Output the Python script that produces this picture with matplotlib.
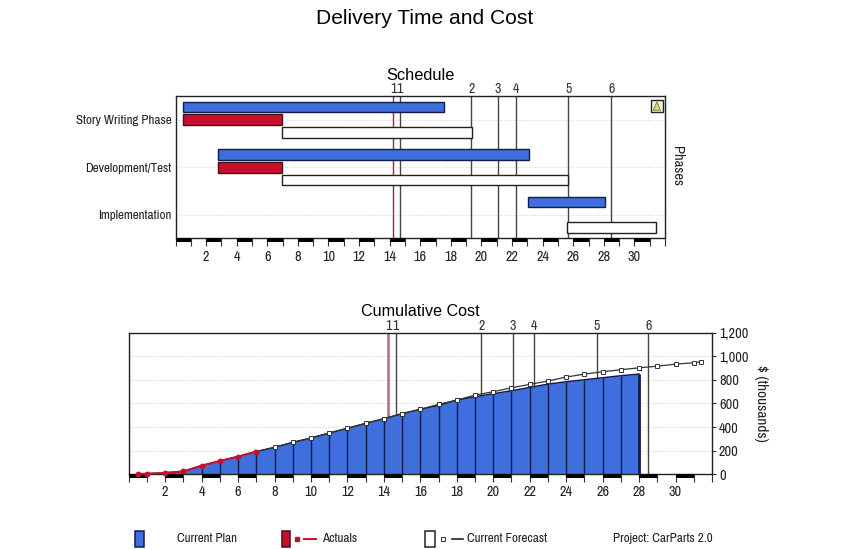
import matplotlib
matplotlib.use("Agg")
import matplotlib.pyplot as plt
from matplotlib import transforms
from matplotlib.lines import Line2D
from matplotlib.patches import Rectangle, Polygon

plt.rcParams["font.family"] = ["Archivo Narrow", "Roboto Condensed", "Liberation Sans", "DejaVu Sans"]

W, H = 847, 549
BLUE = "#3f6fdc"
RED = "#c8102e"
NAVY = "#101c50"
DARK = "#333333"
TITLE_FONT = ["Liberation Sans"]
LABEL_SIZE = 9.4
TICK_SIZE = 10.3

# schedule data
phases = ["Story Writing Phase", "Development/Test", "Implementation"]
plan_start = [0.47, 2.78, 23.03]
plan_end = [17.54, 23.1, 28.1]
actual_start = [0.47, 2.78]
actual_end = [6.97, 6.97]
forecast_start = [6.95, 6.95, 25.6]
forecast_end = [19.4, 25.67, 31.4]

# milestones
status_date = 14.25
milestone_x = [14.66, 19.35, 21.09, 22.25, 25.67, 28.5]
milestone_labels = ["1", "2", "3", "4", "5", "6"]

# cumulative cost ($ thousands)
plan_x = [0.5, 1, 2, 3, 4, 5, 6, 7, 8, 9, 10, 11, 12, 13, 14, 15, 16, 17, 18, 19, 20, 21, 22, 23, 24, 25, 26, 27, 28]
plan_y = [3, 5, 12, 25, 73, 113, 150, 192, 228, 270, 307, 349, 389, 431, 470, 513, 550, 583, 628, 656, 682, 707,
          735, 763, 783, 800, 817, 834, 848]
actual_x = [0.5, 1, 2, 3, 4, 5, 6, 7]
actual_y = [3, 5, 12, 25, 73, 113, 150, 192]
forecast_x = [7, 8, 9, 10, 11, 12, 13, 14, 15, 16, 17, 18, 19, 20, 21, 22, 23, 24, 25, 26, 27, 28, 29, 30, 31, 31.4]
forecast_y = [192, 228, 270, 307, 349, 389, 431, 470, 513, 550, 592, 628, 670, 699, 732, 761, 789, 823, 848, 868,
              885, 901, 915, 932, 944, 952]
cost_ticks = [0, 200, 400, 600, 800, 1000, 1200]


def px_axes(left, top, right, bottom):
    return fig.add_axes([left / W, 1 - bottom / H, (right - left) / W, (bottom - top) / H])


def fig_text(x, y, s, **kw):
    fig.text(x / W, 1 - y / H, s, va="center", **kw)


def time_axis(ax):
    ax.set_xlim(0, 32)
    ax.set_xticks(range(0, 33))
    ax.set_xticklabels([str(i) if i % 2 == 0 and i > 0 and i < 32 else "" for i in range(0, 33)], fontsize=TICK_SIZE)
    ax.tick_params(axis="x", length=6, width=0.8, color=DARK, labelcolor="#222222", pad=2)
    # alternating black blocks along the time axis
    trans = transforms.blended_transform_factory(ax.transData, ax.transAxes)
    for i in range(0, 32, 2):
        ax.add_patch(Rectangle((i, -0.028), 1, 0.028, transform=trans, color="black", lw=0, clip_on=False, zorder=5))
    for s in ax.spines.values():
        s.set_linewidth(1.0)
        s.set_color("#222222")


def milestones(ax, red_lw, red_color):
    trans = transforms.blended_transform_factory(ax.transData, ax.transAxes)
    ax.axvline(status_date, color=red_color, lw=red_lw, zorder=1)
    ax.text(status_date, 1.0, "1", transform=trans, ha="center", va="bottom", fontsize=10, color="#333333")
    for x, lab in zip(milestone_x, milestone_labels):
        ax.axvline(x, color="#444444", lw=1.0, zorder=1)
        ax.text(x, 1.0, lab, transform=trans, ha="center", va="bottom", fontsize=10, color="#333333")


fig = plt.figure(figsize=(W / 100, H / 100), dpi=100)
fig_text(425, 18, "Delivery Time and Cost", ha="center", fontsize=15.1, family=TITLE_FONT)

# --- schedule ---
ax1 = px_axes(175.5, 96, 665, 238.5)
time_axis(ax1)
ax1.set_ylim(2.5, -0.5)
ax1.set_yticks(range(3))
ax1.set_yticklabels(phases, fontsize=LABEL_SIZE)
ax1.tick_params(axis="y", length=0, pad=3, labelcolor="#222222")
ax1.grid(axis="y", ls=":", lw=0.7, color="#d0d0d0")
ax1.set_axisbelow(True)
milestones(ax1, 1.0, "#b02040")

h = 0.225
off = 0.27
for i in range(3):
    ax1.barh(i - off, plan_end[i] - plan_start[i], left=plan_start[i], height=h, color=BLUE, edgecolor=NAVY, lw=1.0, zorder=3)
    ax1.barh(i + off, forecast_end[i] - forecast_start[i], left=forecast_start[i], height=h, color="white", edgecolor="#222222", lw=1.0, zorder=3)
for i in range(2):
    ax1.barh(i, actual_end[i] - actual_start[i], left=actual_start[i], height=h, color=RED, edgecolor="#401018", lw=1.0, zorder=3)

# small warning icon, top right corner
ax1.add_patch(Rectangle((0.972, 0.89), 0.023, 0.08, transform=ax1.transAxes, fc="#f4f4d8", ec="#222222", lw=1, zorder=4))
ax1.add_patch(Polygon([(0.976, 0.90), (0.9835, 0.96), (0.991, 0.90)], transform=ax1.transAxes, fc="#d8d870", ec="#777744", lw=0.6, zorder=5))
fig_text(677, 166, "Phases", ha="center", rotation=-90, fontsize=10.5, color="#222222")
fig_text(420, 76, "Schedule", ha="center", fontsize=11.8, family=TITLE_FONT)

# --- cumulative cost ---
ax2 = px_axes(128.7, 332.5, 712, 474.3)
time_axis(ax2)
ax2.set_ylim(0, 1200)
ax2.yaxis.tick_right()
ax2.set_yticks(cost_ticks)
ax2.set_yticklabels([f"{v:,}" for v in cost_ticks], fontsize=TICK_SIZE)
ax2.tick_params(axis="y", length=3, width=0.8, color=DARK, pad=2, labelcolor="#222222")
ax2.grid(axis="y", ls=":", lw=0.7, color="#d0d0d0")
ax2.set_axisbelow(True)
milestones(ax2, 1.8, "#b8667e")

ax2.fill_between(plan_x, plan_y, 0, color=BLUE, lw=0, zorder=2)
ax2.vlines(plan_x[1:], 0, plan_y[1:], color=NAVY, lw=1.0, zorder=3)
ax2.vlines(plan_x[-1], 0, plan_y[-1], color=NAVY, lw=2.0, zorder=3)
ax2.plot(plan_x, plan_y, color=NAVY, lw=1.1, zorder=3)
ax2.plot(forecast_x, forecast_y, color="#333333", lw=0.9, marker="s", ms=3, mfc="white", mec="#333333", mew=0.7, zorder=4)
ax2.plot(actual_x, actual_y, color=RED, lw=1.4, marker="o", ms=3.2, mfc=RED, mec=RED, zorder=5, clip_on=False)
fig_text(761, 403, "$ (thousands)", ha="center", rotation=-90, fontsize=11, color="#222222")
fig_text(420, 312, "Cumulative Cost", ha="center", fontsize=11.6, family=TITLE_FONT)

# --- legend row ---
y0 = 539


def swatch(x0, x1, fc, ec):
    fig.add_artist(Rectangle((x0 / W, 1 - 547 / H), (x1 - x0) / W, 16 / H, transform=fig.transFigure, fc=fc, ec=ec, lw=1.1))


def legend_line(xs, color, lw):
    fig.add_artist(Line2D([xs[0] / W, xs[1] / W], [1 - y0 / H] * 2, transform=fig.transFigure, color=color, lw=lw))


swatch(135, 144, BLUE, NAVY)
fig_text(177, y0, "Current Plan", ha="left", fontsize=LABEL_SIZE, color="#222222")
swatch(282, 290, RED, "#401018")
fig.add_artist(Line2D([297 / W], [1 - y0 / H], transform=fig.transFigure, marker="s", ms=3, color=RED, ls=""))
legend_line((304, 316), RED, 1.4)
fig_text(322, y0, "Actuals", ha="left", fontsize=LABEL_SIZE, color="#222222")
swatch(425, 435, "white", "#222222")
fig.add_artist(Line2D([443 / W], [1 - y0 / H], transform=fig.transFigure, marker="s", ms=3, mfc="white", mec="#333333", mew=0.7, ls=""))
legend_line((452, 463), "#222222", 1.2)
fig_text(467, y0, "Current Forecast", ha="left", fontsize=LABEL_SIZE, color="#222222")
fig_text(613, y0, "Project: CarParts 2.0", ha="left", fontsize=LABEL_SIZE, color="#222222")

fig.savefig("out.png", dpi=100)
